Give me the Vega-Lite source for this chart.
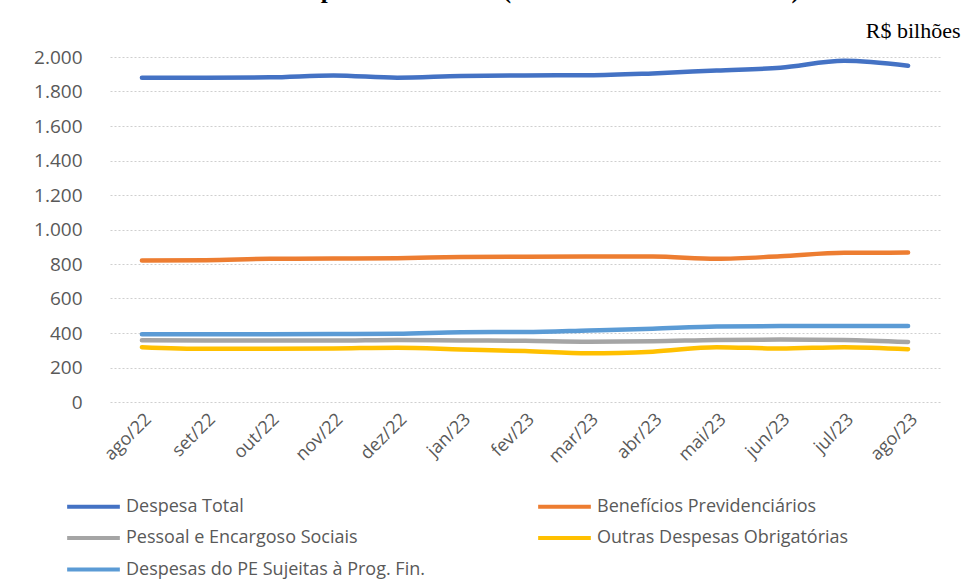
{
  "$schema": "https://vega.github.io/schema/vega-lite/v6.json",
  "width": 830,
  "height": 345,
  "autosize": {"type": "none"},
  "padding": {"left": 110, "top": 57, "right": 23, "bottom": 179},
  "background": "white",
  "title": {
    "text": "Gráfico 1 – Despesa Acumulada (soma móvel de doze meses)",
    "font": "Liberation Serif",
    "fontSize": 25,
    "fontWeight": "bold",
    "color": "black",
    "anchor": "middle",
    "frame": "group",
    "baseline": "alphabetic",
    "offset": 0,
    "dx": -47,
    "dy": 4
  },
  "config": {
    "view": {"stroke": null},
    "font": "Open Sans"
  },
  "data": {
    "values": [
      {"mes": "ago/22", "serie": "Despesa Total", "valor": 1880},
      {"mes": "set/22", "serie": "Despesa Total", "valor": 1880},
      {"mes": "out/22", "serie": "Despesa Total", "valor": 1882},
      {"mes": "nov/22", "serie": "Despesa Total", "valor": 1893},
      {"mes": "dez/22", "serie": "Despesa Total", "valor": 1880},
      {"mes": "jan/23", "serie": "Despesa Total", "valor": 1890},
      {"mes": "fev/23", "serie": "Despesa Total", "valor": 1893},
      {"mes": "mar/23", "serie": "Despesa Total", "valor": 1894},
      {"mes": "abr/23", "serie": "Despesa Total", "valor": 1905},
      {"mes": "mai/23", "serie": "Despesa Total", "valor": 1922},
      {"mes": "jun/23", "serie": "Despesa Total", "valor": 1938},
      {"mes": "jul/23", "serie": "Despesa Total", "valor": 1978},
      {"mes": "ago/23", "serie": "Despesa Total", "valor": 1949},
      {"mes": "ago/22", "serie": "Benefícios Previdenciários", "valor": 820},
      {"mes": "set/22", "serie": "Benefícios Previdenciários", "valor": 822},
      {"mes": "out/22", "serie": "Benefícios Previdenciários", "valor": 830},
      {"mes": "nov/22", "serie": "Benefícios Previdenciários", "valor": 832},
      {"mes": "dez/22", "serie": "Benefícios Previdenciários", "valor": 834},
      {"mes": "jan/23", "serie": "Benefícios Previdenciários", "valor": 840},
      {"mes": "fev/23", "serie": "Benefícios Previdenciários", "valor": 842},
      {"mes": "mar/23", "serie": "Benefícios Previdenciários", "valor": 843},
      {"mes": "abr/23", "serie": "Benefícios Previdenciários", "valor": 843},
      {"mes": "mai/23", "serie": "Benefícios Previdenciários", "valor": 830},
      {"mes": "jun/23", "serie": "Benefícios Previdenciários", "valor": 845},
      {"mes": "jul/23", "serie": "Benefícios Previdenciários", "valor": 865},
      {"mes": "ago/23", "serie": "Benefícios Previdenciários", "valor": 866},
      {"mes": "ago/22", "serie": "Pessoal e Encargoso Sociais", "valor": 358},
      {"mes": "set/22", "serie": "Pessoal e Encargoso Sociais", "valor": 357},
      {"mes": "out/22", "serie": "Pessoal e Encargoso Sociais", "valor": 357},
      {"mes": "nov/22", "serie": "Pessoal e Encargoso Sociais", "valor": 356},
      {"mes": "dez/22", "serie": "Pessoal e Encargoso Sociais", "valor": 360},
      {"mes": "jan/23", "serie": "Pessoal e Encargoso Sociais", "valor": 357},
      {"mes": "fev/23", "serie": "Pessoal e Encargoso Sociais", "valor": 355},
      {"mes": "mar/23", "serie": "Pessoal e Encargoso Sociais", "valor": 350},
      {"mes": "abr/23", "serie": "Pessoal e Encargoso Sociais", "valor": 352},
      {"mes": "mai/23", "serie": "Pessoal e Encargoso Sociais", "valor": 360},
      {"mes": "jun/23", "serie": "Pessoal e Encargoso Sociais", "valor": 362},
      {"mes": "jul/23", "serie": "Pessoal e Encargoso Sociais", "valor": 360},
      {"mes": "ago/23", "serie": "Pessoal e Encargoso Sociais", "valor": 348},
      {"mes": "ago/22", "serie": "Outras Despesas Obrigatórias", "valor": 318},
      {"mes": "set/22", "serie": "Outras Despesas Obrigatórias", "valor": 308},
      {"mes": "out/22", "serie": "Outras Despesas Obrigatórias", "valor": 308},
      {"mes": "nov/22", "serie": "Outras Despesas Obrigatórias", "valor": 310},
      {"mes": "dez/22", "serie": "Outras Despesas Obrigatórias", "valor": 315},
      {"mes": "jan/23", "serie": "Outras Despesas Obrigatórias", "valor": 305},
      {"mes": "fev/23", "serie": "Outras Despesas Obrigatórias", "valor": 295},
      {"mes": "mar/23", "serie": "Outras Despesas Obrigatórias", "valor": 282},
      {"mes": "abr/23", "serie": "Outras Despesas Obrigatórias", "valor": 292},
      {"mes": "mai/23", "serie": "Outras Despesas Obrigatórias", "valor": 318},
      {"mes": "jun/23", "serie": "Outras Despesas Obrigatórias", "valor": 310},
      {"mes": "jul/23", "serie": "Outras Despesas Obrigatórias", "valor": 318},
      {"mes": "ago/23", "serie": "Outras Despesas Obrigatórias", "valor": 306},
      {"mes": "ago/22", "serie": "Despesas do PE Sujeitas à Prog. Fin.", "valor": 393},
      {"mes": "set/22", "serie": "Despesas do PE Sujeitas à Prog. Fin.", "valor": 393},
      {"mes": "out/22", "serie": "Despesas do PE Sujeitas à Prog. Fin.", "valor": 393},
      {"mes": "nov/22", "serie": "Despesas do PE Sujeitas à Prog. Fin.", "valor": 394},
      {"mes": "dez/22", "serie": "Despesas do PE Sujeitas à Prog. Fin.", "valor": 395},
      {"mes": "jan/23", "serie": "Despesas do PE Sujeitas à Prog. Fin.", "valor": 405},
      {"mes": "fev/23", "serie": "Despesas do PE Sujeitas à Prog. Fin.", "valor": 406},
      {"mes": "mar/23", "serie": "Despesas do PE Sujeitas à Prog. Fin.", "valor": 415},
      {"mes": "abr/23", "serie": "Despesas do PE Sujeitas à Prog. Fin.", "valor": 425},
      {"mes": "mai/23", "serie": "Despesas do PE Sujeitas à Prog. Fin.", "valor": 438},
      {"mes": "jun/23", "serie": "Despesas do PE Sujeitas à Prog. Fin.", "valor": 440},
      {"mes": "jul/23", "serie": "Despesas do PE Sujeitas à Prog. Fin.", "valor": 440},
      {"mes": "ago/23", "serie": "Despesas do PE Sujeitas à Prog. Fin.", "valor": 440}
    ]
  },
  "mark": {"type": "line", "strokeWidth": 4.5, "interpolate": "monotone", "strokeCap": "round", "strokeJoin": "round"},
  "encoding": {
    "x": {
      "field": "mes",
      "type": "ordinal",
      "sort": ["ago/22", "set/22", "out/22", "nov/22", "dez/22", "jan/23", "fev/23", "mar/23", "abr/23", "mai/23", "jun/23", "jul/23", "ago/23"],
      "scale": {"type": "point", "padding": 0.5},
      "axis": {
        "title": null,
        "domain": false,
        "ticks": false,
        "grid": false,
        "labelAngle": -45,
        "labelAlign": "right",
        "labelBaseline": "top",
        "labelPadding": 8,
        "labelFont": "Open Sans",
        "labelFontSize": 18,
        "labelColor": "#595959"
      }
    },
    "y": {
      "field": "valor",
      "type": "quantitative",
      "scale": {"domain": [0, 2000], "nice": false},
      "axis": {
        "values": [0, 200, 400, 600, 800, 1000, 1200, 1400, 1600, 1800, 2000],
        "labelExpr": "replace(format(datum.value, ','), ',', '.')",
        "domain": false,
        "ticks": false,
        "grid": true,
        "gridColor": "#cfcfcf",
        "gridDash": [2, 2],
        "gridWidth": 1,
        "labelPadding": 28,
        "labelFont": "Open Sans",
        "labelFontSize": 19,
        "labelColor": "#595959",
        "title": "R$ bilhões",
        "titleFont": "Liberation Serif",
        "titleFontSize": 22,
        "titleFontWeight": "normal",
        "titleColor": "black",
        "titleAngle": 0,
        "titleAlign": "right",
        "titleBaseline": "alphabetic",
        "titleX": 850,
        "titleY": -20
      }
    },
    "color": {
      "field": "serie",
      "type": "nominal",
      "scale": {
        "domain": ["Despesa Total", "Benefícios Previdenciários", "Pessoal e Encargoso Sociais", "Outras Despesas Obrigatórias", "Despesas do PE Sujeitas à Prog. Fin."],
        "range": ["#4472C4", "#ED7D31", "#A5A5A5", "#FFC000", "#5B9BD5"]
      },
      "legend": {
        "title": null,
        "orient": "none",
        "legendX": -34,
        "legendY": 432,
        "columns": 2,
        "direction": "horizontal",
        "symbolType": "M-1.7,0H1.7",
        "symbolSize": 961,
        "symbolStrokeWidth": 4,
        "symbolFillColor": "transparent",
        "labelOffset": 15,
        "labelFont": "Open Sans",
        "labelFontSize": 18,
        "labelColor": "#595959",
        "labelLimit": 500,
        "columnPadding": 105,
        "rowPadding": 4.5
      }
    }
  }
}
